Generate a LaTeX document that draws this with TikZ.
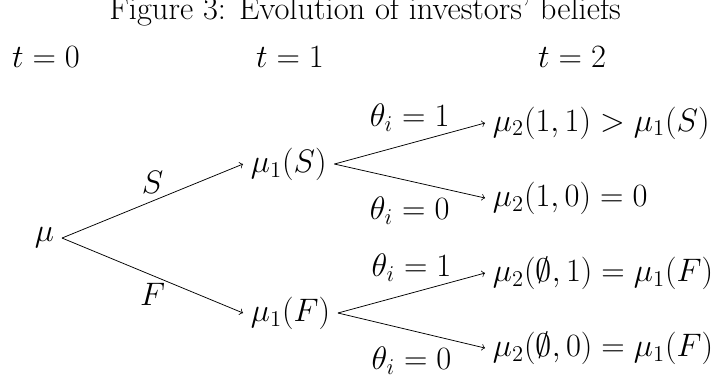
\documentclass[tikz,border=0pt,12pt]{standalone}
\usepackage{tikz}
\usepackage{amsmath, amssymb}

\begin{document}
\begin{tikzpicture}[
    font=\Large,
    period/.style={anchor=base},
    belief/.style={anchor=west},
    branch/.style={->},
  ]
        \useasboundingbox (0,0) rectangle (13.475,7.140);

        % Title
        \node[anchor=base] (title) at (6.822, 6.784) {Figure 3: Evolution of investors' beliefs};

        % Periods
        \node[period] (t0) at (0.860, 5.878) {$t=0$};
        \node[period] (t1) at (5.420, 5.878) {$t=1$};
        \node[period] (t2) at (10.691, 5.878) {$t=2$};

        % Prior
        \node[anchor=east] (mu) at (1.159, 2.691) {$\mu$};

        % First signal
        \node[belief] (muS) at (4.542, 4.074) {$\mu_1(S)$};
        \node[belief] (muF) at (4.542, 1.290) {$\mu_1(F)$};
        \draw[branch] (mu.east) -- node[above] {$S$} (muS.west);
        \draw[branch] (mu.east) -- node[below] {$F$} (muF.west);

        % Second signal
        \node[belief] (m11) at (9.065, 4.841) {$\mu_2(1,1) > \mu_1(S)$};
        \node[belief] (m10) at (9.065, 3.439) {$\mu_2(1,0) = 0$};
        \node[belief] (m01) at (9.065, 2.037) {$\mu_2(\emptyset,1) = \mu_1(F)$};
        \node[belief] (m00) at (9.065, 0.635) {$\mu_2(\emptyset,0) = \mu_1(F)$};
        \draw[branch] (muS.east) -- node[above=2pt] {$\theta_i=1$} (m11.west);
        \draw[branch] (muS.east) -- node[below=4.5pt] {$\theta_i=0$} (m10.west);
        \draw[branch] (muF.east) -- node[above=2pt] {$\theta_i=1$} (m01.west);
        \draw[branch] (muF.east) -- node[below=4.5pt] {$\theta_i=0$} (m00.west);
\end{tikzpicture}
\end{document}
